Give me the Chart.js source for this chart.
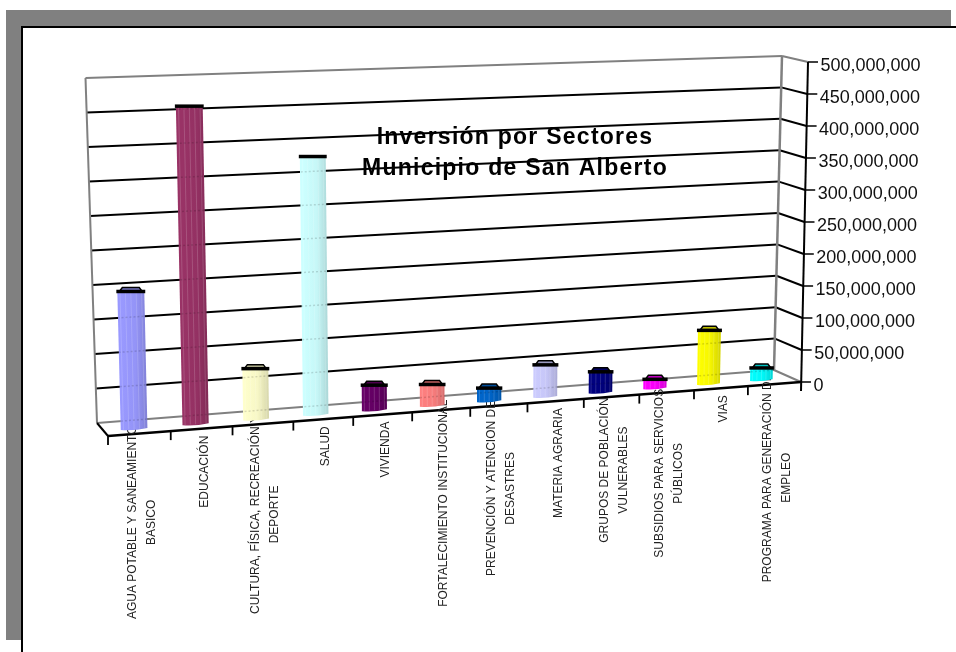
<!DOCTYPE html>
<html>
<head>
<meta charset="utf-8">
<title>Inversión por Sectores</title>
<script src="https://cdn.jsdelivr.net/npm/chart.js@4"></script>
<style>
  html, body { margin: 0; height: 100%; background: #fff; overflow: hidden; }
  #frame { position: absolute; left: 6px; top: 10px; width: 945px; height: 630px; background: #808080; }
  #sheet { position: absolute; left: 21px; top: 26px; right: 0; bottom: 0; background: #fff;
           border-left: 2px solid #000; border-top: 2px solid #000; }
  #chart { position: absolute; left: 0; top: 0; }
</style>
</head>
<body>
<div id="frame"></div>
<div id="sheet"></div>
<canvas id="chart" width="956" height="652"></canvas>
<script>
const categories = [
  ["AGUA POTABLE Y SANEAMIENTO", "BASICO"],
  ["EDUCACIÓN"],
  ["CULTURA, FÍSICA, RECREACIÓN Y", "DEPORTE"],
  ["SALUD"],
  ["VIVIENDA"],
  ["FORTALECIMIENTO INSTITUCIONAL"],
  ["PREVENCIÓN Y ATENCION DE", "DESASTRES"],
  ["MATERIA AGRARIA"],
  ["GRUPOS DE POBLACIÓN", "VULNERABLES"],
  ["SUBSIDIOS PARA SERVICIOS", "PÚBLICOS"],
  ["VIAS"],
  ["PROGRAMA PARA GENERACIÓN DE", "EMPLEO"],
];
const inversion = [
  200000000, 466000000, 75000000, 384000000, 37500000, 32000000,
  20000000, 49000000, 32000000, 14000000, 84000000, 19000000,
];
const barColors = [
  "#9999ff", "#993366", "#ffffcc", "#ccffff", "#660066", "#ff8080",
  "#0066cc", "#ccccff", "#000080", "#ff00ff", "#ffff00", "#00ffff",
];
const titleLines = ["Inversión por Sectores", "Municipio de San Alberto"];
const yMax = 500000000;
const yStep = 50000000;

// ── Perspective of the 3D box ───────────────────────────────────────────────
const FORESHORTEN = 0.913;
const BACK = { bl: [97, 423], br: [774, 370], tl: [85.5, 78], tr: [782, 56] };
const FRONT = { bl: [108, 436], br: [801, 382], tl: [96, 82], tr: [808, 62] };
const BARS = { bl: [103, 431.4], br: [787.5, 378], tl: [94, 86.4], tr: [795, 61] };

const lerp = (a, b, t) => [a[0] + (b[0] - a[0]) * t, a[1] + (b[1] - a[1]) * t];

function project(s, v, plane) {
  const f = s / (s + FORESHORTEN * (1 - s));
  return lerp(lerp(plane.bl, plane.br, f), lerp(plane.tl, plane.tr, f), v);
}

function line(ctx, a, b, color, width) {
  ctx.strokeStyle = color;
  ctx.lineWidth = width;
  ctx.beginPath();
  ctx.moveTo(a[0], a[1]);
  ctx.lineTo(b[0], b[1]);
  ctx.stroke();
}

function shade(hex, k) {
  const n = parseInt(hex.slice(1), 16);
  return `rgb(${((n >> 16) & 255) * k},${((n >> 8) & 255) * k},${(n & 255) * k})`;
}

// ── Walls, gridlines and axes ───────────────────────────────────────────────
function drawBox(chart) {
  const { ctx, scales } = chart;
  const y = scales.y;
  const frac = (val) => (y.bottom - y.getPixelForValue(val)) / (y.bottom - y.top);

  y.ticks.forEach((t) => {
    const v = frac(t.value);
    const edge = t.value === 0 || t.value === yMax;
    const color = edge ? "#808080" : "#000";
    line(ctx, project(0, v, BACK), project(1, v, BACK), color, 2);
    line(ctx, project(1, v, BACK), project(1, v, FRONT), color, 2);
    const p = project(1, v, FRONT);
    line(ctx, p, [p[0] + 10, p[1]], "#000", 1.5);
    ctx.fillStyle = "#111";
    ctx.font = "18px 'Liberation Sans'";
    ctx.textAlign = "left";
    ctx.textBaseline = "middle";
    ctx.fillText(t.label, p[0] + 12.5, p[1] + 4);
  });
  line(ctx, project(0, 0, BACK), project(0, 1, BACK), "#808080", 2);
  line(ctx, project(1, 0, BACK), project(1, 1, BACK), "#808080", 2.5);
  line(ctx, project(0, 0, BACK), project(0, 0, FRONT), "#000", 2);
  line(ctx, project(0, 0, FRONT), project(1, 0, FRONT), "#000", 2.4);
  const base = project(1, 0, FRONT);
  line(ctx, [base[0], base[1] + 9], project(1, 1, FRONT), "#000", 2);

  categories.forEach((_, i) => {
    const p = project(i / categories.length, 0, FRONT);
    line(ctx, p, [p[0], p[1] + 9], "#000", 1.8);
  });
}

// ── Rotated category labels, following the front edge ───────────────────────
function drawCategoryLabels(chart) {
  const { ctx } = chart;
  ctx.font = "12px 'Liberation Sans'";
  ctx.fillStyle = "#222";
  ctx.textBaseline = "middle";
  ctx.textAlign = "center";
  categories.forEach((lines, i) => {
    const p = project((i + 0.5) / categories.length, 0, FRONT);
    const widest = Math.max(...lines.map((l) => ctx.measureText(l).width));
    const top = p[1] + 7 - Math.max(0, widest - 110) * 0.18;
    lines.forEach((l, j) => {
      ctx.save();
      ctx.translate(p[0] + 2.5 + (j - (lines.length - 1) / 2) * 19, top + widest / 2);
      ctx.rotate(-Math.PI / 2);
      ctx.fillText(l, 0, 0);
      ctx.restore();
    });
  });
}

// ── One cylinder, from the element the bar controller laid out ──────────────
function drawBar(chart, el, i) {
  const { ctx, chartArea: area, scales } = chart;
  const y = scales.y;
  const sL = (el.x - el.width / 2 - area.left) / area.width;
  const sR = (el.x + el.width / 2 - area.left) / area.width;
  const v = (y.bottom - el.y) / (y.bottom - y.top);
  const bl = project(sL, 0, BARS);
  const br = project(sR, 0, BARS);
  const tl = project(sL, v, BARS);
  const tr = project(sR, v, BARS);
  const color = barColors[i];

  const grad = ctx.createLinearGradient(bl[0], 0, br[0], 0);
  grad.addColorStop(0, color);
  grad.addColorStop(0.55, shade(color, 0.97));
  grad.addColorStop(1, shade(color, 0.84));
  ctx.fillStyle = grad;
  ctx.beginPath();
  ctx.moveTo(tl[0], tl[1]);
  ctx.lineTo(tr[0], tr[1]);
  ctx.lineTo(br[0], br[1]);
  ctx.quadraticCurveTo((bl[0] + br[0]) / 2, (bl[1] + br[1]) / 2 + 2, bl[0], bl[1]);
  ctx.closePath();
  ctx.fill();

  // lighter facets running up the cylinder
  ctx.save();
  ctx.clip();
  for (let k = 1; k < 10; k++) {
    const t = k / 10;
    if (k % 2) line(ctx, lerp(bl, br, t), lerp(tl, tr, t), "rgba(255,255,255,0.16)", 1);
  }
  // gridlines showing faintly through the tall bars
  ctx.setLineDash([2, 2]);
  y.ticks.forEach((tk) => {
    const tv = (y.bottom - y.getPixelForValue(tk.value)) / (y.bottom - y.top);
    line(ctx, project(0, tv, BACK), project(1, tv, BACK), "rgba(0,0,0,0.14)", 1.5);
  });
  ctx.restore();

  // top rim
  const h = Math.max(0, Math.min(4, (tl[1] - 130) / 40));
  const mid = (tl[1] + tr[1]) / 2;
  if (h > 0.8) {
    ctx.fillStyle = shade(color, 0.75);
    ctx.strokeStyle = "#000";
    ctx.lineWidth = 1.5;
    ctx.beginPath();
    ctx.moveTo(tl[0] + 5, mid - h);
    ctx.lineTo(tr[0] - 5, mid - h);
    ctx.lineTo(tr[0] - 2, mid);
    ctx.lineTo(tl[0] + 2, mid);
    ctx.closePath();
    ctx.fill();
    ctx.stroke();
  }
  line(ctx, [tl[0] - 1, mid], [tr[0] + 1, mid], "#000", 3.5);
}

function drawTitle(chart) {
  const { ctx } = chart;
  ctx.font = "bold 23px 'Liberation Sans'";
  ctx.letterSpacing = "1.25px";
  ctx.fillStyle = "#000";
  ctx.textAlign = "center";
  ctx.textBaseline = "middle";
  titleLines.forEach((l, i) => ctx.fillText(l, 515, 138 + i * 31));
  ctx.letterSpacing = "0px";
}

const box3d = {
  id: "box3d",
  beforeDatasetsDraw(chart) {
    drawBox(chart);
    drawCategoryLabels(chart);
  },
  beforeDatasetDraw(chart, args) {
    args.meta.data.forEach((el, i) => drawBar(chart, el, i));
    return false;
  },
  afterDatasetsDraw(chart) {
    drawTitle(chart);
  },
};

new Chart(document.getElementById("chart"), {
  type: "bar",
  data: {
    labels: categories,
    datasets: [
      {
        label: "Inversión",
        data: inversion,
        backgroundColor: barColors,
        categoryPercentage: 1,
        barPercentage: 0.43,
      },
    ],
  },
  options: {
    responsive: false,
    animation: false,
    layout: { padding: { left: 108, right: 155, top: 62, bottom: 270 } },
    plugins: { legend: { display: false }, tooltip: { enabled: false } },
    scales: {
      x: { display: false },
      y: {
        display: false,
        position: "right",
        min: 0,
        max: yMax,
        ticks: { stepSize: yStep, callback: (v) => v.toLocaleString("en-US") },
      },
    },
  },
  plugins: [box3d],
});
</script>
</body>
</html>
